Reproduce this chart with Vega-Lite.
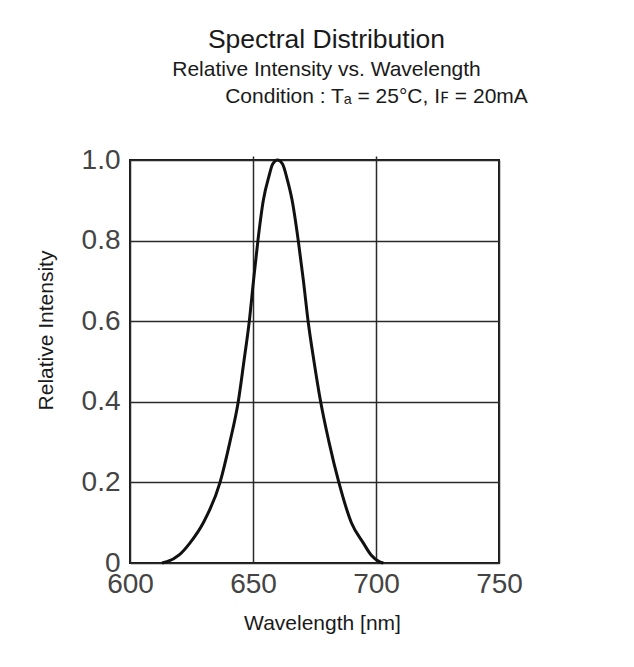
{
  "$schema": "https://vega.github.io/schema/vega-lite/v6.json",
  "width": 369,
  "height": 403,
  "autosize": {"type": "none"},
  "padding": {"left": 130, "top": 160, "right": 135, "bottom": 104},
  "background": "white",
  "title": {
    "text": "Spectral Distribution",
    "subtitle": "Relative Intensity vs. Wavelength",
    "anchor": "middle",
    "frame": "group",
    "dx": 12,
    "offset": 5,
    "font": "Liberation Sans",
    "fontSize": 26.5,
    "fontWeight": "normal",
    "color": "#1a1a1a",
    "subtitleFont": "Liberation Sans",
    "subtitleFontSize": 21,
    "subtitleColor": "#1a1a1a",
    "subtitleLineHeight": 26,
    "subtitlePadding": 6
  },
  "data": {
    "values": [
      {"wavelength": 613, "intensity": 0},
      {"wavelength": 615, "intensity": 0.003},
      {"wavelength": 620, "intensity": 0.02},
      {"wavelength": 624.4, "intensity": 0.05},
      {"wavelength": 629.8, "intensity": 0.1},
      {"wavelength": 636.6, "intensity": 0.2},
      {"wavelength": 640.6, "intensity": 0.3},
      {"wavelength": 644, "intensity": 0.4},
      {"wavelength": 646.3, "intensity": 0.5},
      {"wavelength": 648.5, "intensity": 0.6},
      {"wavelength": 650.2, "intensity": 0.7},
      {"wavelength": 652, "intensity": 0.8},
      {"wavelength": 654.2, "intensity": 0.9},
      {"wavelength": 656.5, "intensity": 0.96},
      {"wavelength": 658, "intensity": 0.99},
      {"wavelength": 660, "intensity": 1.0},
      {"wavelength": 662, "intensity": 0.99},
      {"wavelength": 664, "intensity": 0.95},
      {"wavelength": 665.9, "intensity": 0.9},
      {"wavelength": 668.4, "intensity": 0.8},
      {"wavelength": 670.5, "intensity": 0.7},
      {"wavelength": 672.4, "intensity": 0.6},
      {"wavelength": 674.8, "intensity": 0.5},
      {"wavelength": 677.5, "intensity": 0.4},
      {"wavelength": 680.9, "intensity": 0.3},
      {"wavelength": 684.9, "intensity": 0.2},
      {"wavelength": 690, "intensity": 0.1},
      {"wavelength": 694.8, "intensity": 0.05},
      {"wavelength": 698, "intensity": 0.02},
      {"wavelength": 701.5, "intensity": 0.003},
      {"wavelength": 703, "intensity": 0}
    ]
  },
  "layer": [
    {
      "mark": {"type": "line", "color": "#111111", "strokeWidth": 3, "interpolate": "monotone"},
      "encoding": {
        "x": {
          "field": "wavelength",
          "type": "quantitative",
          "scale": {"domain": [600, 750], "nice": false, "zero": false},
          "axis": {
            "orient": "bottom",
            "values": [600, 650, 700, 750],
            "format": "d",
            "grid": true,
            "gridColor": "#2a2a2a",
            "gridWidth": 1.5,
            "gridOpacity": 1,
            "domain": false,
            "ticks": false,
            "labelFont": "Liberation Sans",
            "labelFontSize": 28,
            "labelColor": "#444444",
            "labelPadding": 7,
            "labelFlush": false,
            "labelOverlap": false,
            "title": "Wavelength [nm]",
            "titleFont": "Liberation Sans",
            "titleFontSize": 21,
            "titleFontWeight": "normal",
            "titleColor": "#1a1a1a",
            "titleAlign": "center",
            "titleBaseline": "alphabetic",
            "titleX": 192,
            "titleY": 66
          }
        },
        "y": {
          "field": "intensity",
          "type": "quantitative",
          "scale": {"domain": [0, 1], "nice": false},
          "axis": {
            "values": [0, 0.2, 0.4, 0.6, 0.8, 1],
            "labelExpr": "datum.value == 0 ? '0' : format(datum.value, '.1f')",
            "grid": true,
            "gridColor": "#2a2a2a",
            "gridWidth": 1.5,
            "gridOpacity": 1,
            "domain": false,
            "ticks": false,
            "labelFont": "Liberation Sans",
            "labelFontSize": 28,
            "labelColor": "#444444",
            "labelPadding": 10,
            "labelFlush": false,
            "labelOverlap": false,
            "title": "Relative Intensity",
            "titleFont": "Liberation Sans",
            "titleFontSize": 21,
            "titleFontWeight": "normal",
            "titleColor": "#1a1a1a",
            "titleAngle": 270,
            "titleAlign": "center",
            "titleBaseline": "alphabetic",
            "titleX": -78,
            "titleY": 170
          }
        }
      }
    },
    {
      "mark": {"type": "point", "opacity": 0},
      "encoding": {
        "x": {
          "field": "wavelength",
          "type": "quantitative",
          "axis": {
            "orient": "top",
            "values": [650, 700],
            "labels": false,
            "domain": false,
            "grid": false,
            "ticks": true,
            "tickSize": 4,
            "tickColor": "#2a2a2a",
            "tickWidth": 1.5,
            "title": "Condition : Tₐ = 25°C, Iꜰ = 20mA",
            "titleFont": "Liberation Sans",
            "titleFontSize": 21,
            "titleFontWeight": "normal",
            "titleColor": "#1a1a1a",
            "titleAlign": "center",
            "titleBaseline": "alphabetic",
            "titleX": 246,
            "titleY": -58
          }
        }
      }
    }
  ],
  "resolve": {"axis": {"x": "independent"}},
  "config": {
    "view": {"stroke": "#1a1a1a", "strokeWidth": 2}
  }
}
